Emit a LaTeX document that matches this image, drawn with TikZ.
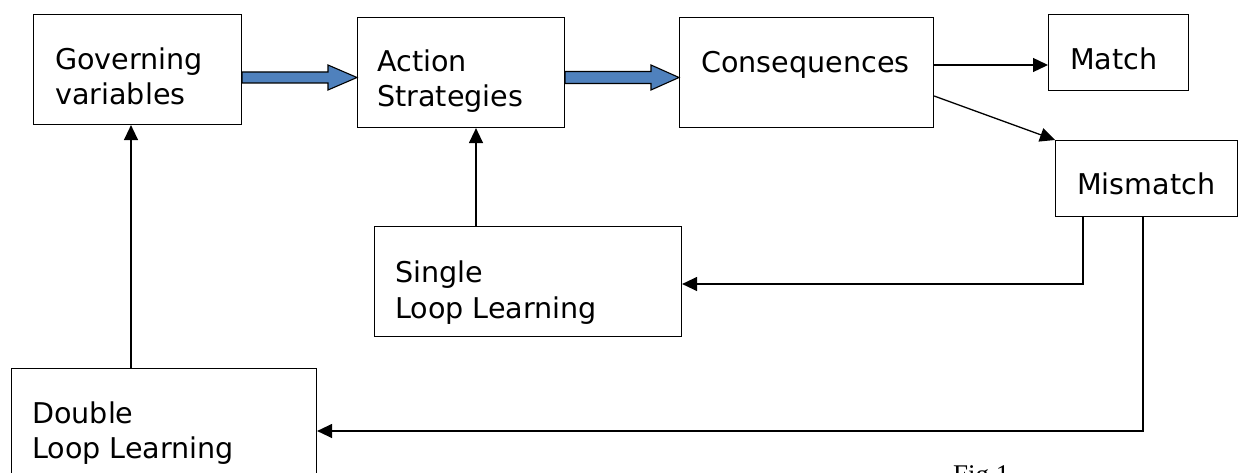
\documentclass[tikz,border=0pt]{standalone}
\usepackage{fontspec}
\setmainfont{DejaVu Sans}
\newfontfamily\capfont{Liberation Serif}
\usetikzlibrary{arrows.meta,calc}
\definecolor{arrowblue}{HTML}{4F81BD}
\tikzset{
  box/.style={draw=black, line width=1.1pt, fill=white, rectangle, inner sep=0pt, anchor=north west},
  lbl/.style={anchor=base west, inner sep=0pt, font=\fontsize{28.6}{35}\selectfont},
  conn/.style={draw=black, line width=1.3pt, -{Triangle[length=15pt,width=14pt]}},
  bluearr/.style={draw=black, line width=1.1pt, fill=arrowblue, line join=miter}
}
\begin{document}
\begin{tikzpicture}[x=1pt,y=-1pt]
\useasboundingbox (0,0) rectangle (1239,473);
\clip (0,0) rectangle (1239,473);
\fill[white] (0,0) rectangle (1239,473);
% boxes
\node[box, minimum width=208pt, minimum height=110pt] (gov) at (33,14) {};
\node[box, minimum width=207pt, minimum height=110pt] (act) at (357,17) {};
\node[box, minimum width=254pt, minimum height=110pt] (con) at (679,17) {};
\node[box, minimum width=140pt, minimum height=76pt] (mat) at (1048,14) {};
\node[box, minimum width=182pt, minimum height=76pt] (mis) at (1055,140) {};
\node[box, minimum width=307pt, minimum height=110pt] (sin) at (374,226) {};
\node[box, minimum width=305pt, minimum height=122pt] (dou) at (11,368) {};
% labels
\node[lbl] (govA) at (55,70) {Governing};
\node[lbl] (govB) at (55,105) {variables};
\node[lbl] (actA) at (377,72) {Action};
\node[lbl] (actB) at (377,107) {Strategies};
\node[lbl] (conA) at (701,73) {Consequences};
\node[lbl] (matA) at (1070,70) {Match};
\node[lbl] (misA) at (1077,195) {Mismatch};
\node[lbl] (sinA) at (395,282) {Single};
\node[lbl] (sinB) at (395,318) {Loop Learning};
\node[lbl] (douA) at (32,423) {Double};
\node[lbl] (douB) at (32,458) {Loop Learning};
\node[anchor=base west, inner sep=0pt, font=\capfont\fontsize{27}{30}\selectfont] (fig) at (953,483) {Fig.1};
% helper levels
\coordinate (yb) at (0,77.5);
\coordinate (yc) at (0,65);
\coordinate (yd) at (0,96);
\coordinate (ys) at (0,284);
\coordinate (yl) at (0,431);
\coordinate (xs) at (1083,0);
\coordinate (xl) at (1143,0);
\coordinate (xa) at (476,0);
\coordinate (xg) at (131,0);
% blue arrows
\path (gov.east |- yb) coordinate (s1) (act.west |- yb) coordinate (t1);
\draw[bluearr] ($(s1)+(0,-5.5)$) -- ($(t1)+(-29,-5.5)$) -- ($(t1)+(-29,-12.5)$) -- (t1)
  -- ($(t1)+(-29,12.5)$) -- ($(t1)+(-29,5.5)$) -- ($(s1)+(0,5.5)$) -- cycle;
\path (act.east |- yb) coordinate (s2) (con.west |- yb) coordinate (t2);
\draw[bluearr] ($(s2)+(0,-6)$) -- ($(t2)+(-28,-6)$) -- ($(t2)+(-28,-12.5)$) -- (t2)
  -- ($(t2)+(-28,12.5)$) -- ($(t2)+(-28,6)$) -- ($(s2)+(0,6)$) -- cycle;
% line arrows
\draw[conn] (con.east |- yc) -- (mat.west |- yc);
\draw[conn] (con.east |- yd) -- (mis.north west);
\draw[conn] (mis.south -| xs) -- (xs |- ys) -- (sin.east |- ys);
\draw[conn] (mis.south -| xl) -- (xl |- yl) -- (dou.east |- yl);
\draw[conn] (sin.north -| xa) -- (act.south -| xa);
\draw[conn] (dou.north -| xg) -- (gov.south -| xg);
\end{tikzpicture}
\end{document}
